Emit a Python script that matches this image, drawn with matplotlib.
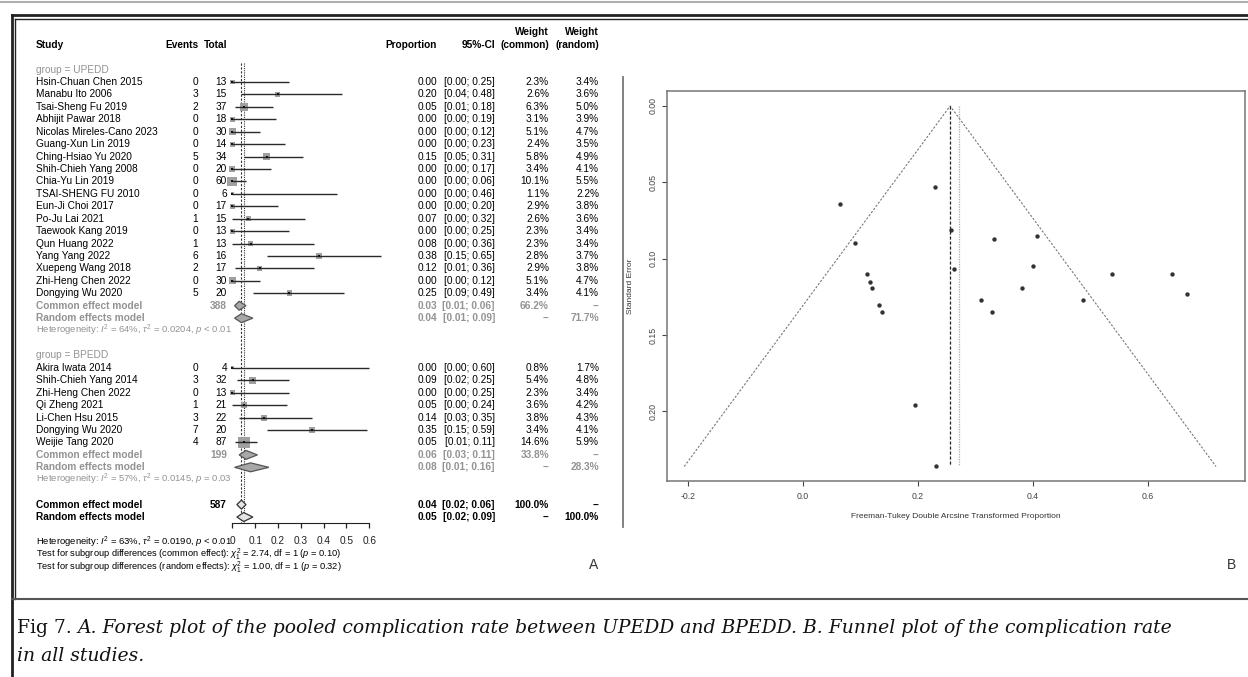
import matplotlib
matplotlib.use("Agg")
import matplotlib.pyplot as plt
import matplotlib.transforms as mtransforms
from matplotlib.lines import Line2D
import numpy as np

plt.rcParams['font.family'] = ['Liberation Sans', 'DejaVu Sans']
plt.rcParams['mathtext.fontset'] = 'custom'
plt.rcParams['mathtext.rm'] = 'Liberation Sans'
plt.rcParams['mathtext.it'] = 'Liberation Sans:italic'
plt.rcParams['mathtext.bf'] = 'Liberation Sans:bold'

# ---------------- panel A: forest plot data ----------------
up_study = ["Hsin-Chuan Chen 2015", "Manabu Ito 2006", "Tsai-Sheng Fu 2019", "Abhijit Pawar 2018",
            "Nicolas Mireles-Cano 2023", "Guang-Xun Lin 2019", "Ching-Hsiao Yu 2020",
            "Shih-Chieh Yang 2008", "Chia-Yu Lin 2019", "TSAI-SHENG FU 2010", "Eun-Ji Choi 2017",
            "Po-Ju Lai 2021", "Taewook Kang 2019", "Qun Huang 2022", "Yang Yang 2022",
            "Xuepeng Wang 2018", "Zhi-Heng Chen 2022", "Dongying Wu 2020"]
up_events = [0, 3, 2, 0, 0, 0, 5, 0, 0, 0, 0, 1, 0, 1, 6, 2, 0, 5]
up_total = [13, 15, 37, 18, 30, 14, 34, 20, 60, 6, 17, 15, 13, 13, 16, 17, 30, 20]
up_prop = [0.00, 0.20, 0.05, 0.00, 0.00, 0.00, 0.15, 0.00, 0.00, 0.00, 0.00, 0.07, 0.00, 0.08, 0.38, 0.12, 0.00, 0.25]
up_lo = [0.00, 0.04, 0.01, 0.00, 0.00, 0.00, 0.05, 0.00, 0.00, 0.00, 0.00, 0.00, 0.00, 0.00, 0.15, 0.01, 0.00, 0.09]
up_hi = [0.25, 0.48, 0.18, 0.19, 0.12, 0.23, 0.31, 0.17, 0.06, 0.46, 0.20, 0.32, 0.25, 0.36, 0.65, 0.36, 0.12, 0.49]
up_wc = [2.3, 2.6, 6.3, 3.1, 5.1, 2.4, 5.8, 3.4, 10.1, 1.1, 2.9, 2.6, 2.3, 2.3, 2.8, 2.9, 5.1, 3.4]
up_wr = [3.4, 3.6, 5.0, 3.9, 4.7, 3.5, 4.9, 4.1, 5.5, 2.2, 3.8, 3.6, 3.4, 3.4, 3.7, 3.8, 4.7, 4.1]

bp_study = ["Akira Iwata 2014", "Shih-Chieh Yang 2014", "Zhi-Heng Chen 2022", "Qi Zheng 2021",
            "Li-Chen Hsu 2015", "Dongying Wu 2020", "Weijie Tang 2020"]
bp_events = [0, 3, 0, 1, 3, 7, 4]
bp_total = [4, 32, 13, 21, 22, 20, 87]
bp_prop = [0.00, 0.09, 0.00, 0.05, 0.14, 0.35, 0.05]
bp_lo = [0.00, 0.02, 0.00, 0.00, 0.03, 0.15, 0.01]
bp_hi = [0.60, 0.25, 0.25, 0.24, 0.35, 0.59, 0.11]
bp_wc = [0.8, 5.4, 2.3, 3.6, 3.8, 3.4, 14.6]
bp_wr = [1.7, 4.8, 3.4, 4.2, 4.3, 4.1, 5.9]

groups = ["UPEDD", "BPEDD"]
sub_total = [388, 199]
sub_common = [(0.03, 0.01, 0.06), (0.06, 0.03, 0.11)]
sub_random = [(0.04, 0.01, 0.09), (0.08, 0.01, 0.16)]
sub_wc = [66.2, 33.8]
sub_wr = [71.7, 28.3]
sub_i2 = [64, 57]
sub_tau2 = ["0.0204", "0.0145"]
sub_p = ["< 0.01", "= 0.03"]

all_total = 587
all_common = (0.04, 0.02, 0.06)
all_random = (0.05, 0.02, 0.09)
all_i2, all_tau2, all_p = 63, "0.0190", "< 0.01"
test_common = ("2.74", 1, "0.10")
test_random = ("1.00", 1, "0.32")
forest_ticks = [0, 0.1, 0.2, 0.3, 0.4, 0.5, 0.6]

# ---------------- panel B: funnel plot data ----------------
ft_x = [0.065, 0.229, 0.091, 0.258, 0.332, 0.408, 0.111, 0.116, 0.120, 0.132, 0.137,
        0.262, 0.309, 0.329, 0.381, 0.401, 0.488, 0.538, 0.642, 0.668, 0.195, 0.232]
ft_se = [0.064, 0.053, 0.090, 0.081, 0.087, 0.085, 0.110, 0.115, 0.119, 0.130, 0.135,
         0.107, 0.127, 0.135, 0.119, 0.105, 0.127, 0.110, 0.110, 0.123, 0.196, 0.236]
ft_common = 0.256
ft_random = 0.271

# ---------------- layout ----------------
W, H = 1248, 677
fig = plt.figure(figsize=(W / 100, H / 100), dpi=100)
FS = 7.3
GRAY = "#939393"
BLACK = "#000000"

PANEL_A = 623
X0_PX, UNIT_PX = 232.3, 228.3   # where 0 sits, pixels per unit
ROW0_PX, ROW_PX = 44.7, 12.43

ax = fig.add_axes([0, 0, PANEL_A / W, 1])
ax.set_xlim(-X0_PX / UNIT_PX, (PANEL_A - X0_PX) / UNIT_PX)
ax.set_ylim((H - ROW0_PX) / ROW_PX, -ROW0_PX / ROW_PX)
ax.patch.set_alpha(0)
tr = mtransforms.blended_transform_factory(fig.transFigure, ax.transData)

col = {"name": 36, "events": 198, "total": 227, "prop": 437, "ci": 495, "wc": 549, "wr": 599}


def put(key, row, s, ha="right", color=BLACK, weight="normal", size=FS):
    ax.text(col[key] / W, row, s, transform=tr, ha=ha, va="center",
            fontsize=size, color=color, fontweight=weight)


def ci_txt(lo, hi):
    return f"[{lo:.2f}; {hi:.2f}]"


# header
put("name", 0, "Study", ha="left", weight="bold")
put("events", 0, "Events", weight="bold")
put("total", 0, "Total", weight="bold")
put("prop", 0, "Proportion", weight="bold")
put("ci", 0, "95%-CI", weight="bold")
put("wc", -1, "Weight", weight="bold")
put("wc", 0, "(common)", weight="bold")
put("wr", -1, "Weight", weight="bold")
put("wr", 0, "(random)", weight="bold")


def diamond(est, lo, hi, row, face, edge):
    h = 0.36
    ax.fill([lo, est, hi, est], [row, row - h, row, row + h], facecolor=face,
            edgecolor=edge, lw=0.9, zorder=4)


def draw_group(g, study, events, total, prop, lo, hi, wc, wr, start):
    put("name", start, f"group = {groups[g]}", ha="left", color=GRAY)
    rows = np.arange(len(study)) + start + 1
    for r, s, e, n, p, l, u, a, b in zip(rows, study, events, total, prop, lo, hi, wc, wr):
        put("name", r, s, ha="left")
        put("events", r, str(e))
        put("total", r, str(n))
        put("prop", r, f"{p:.2f}")
        put("ci", r, ci_txt(l, u))
        put("wc", r, f"{a:.1f}%")
        put("wr", r, f"{b:.1f}%")
    side = 3.1 * np.sqrt(np.array(wc)) * 0.72
    ax.scatter(prop, rows, s=side ** 2, marker="s", color="#a0a0a0", zorder=3, linewidths=0)
    ax.hlines(rows, lo, hi, color="#2a2a2a", lw=1.0, zorder=4)
    ax.scatter(prop, rows, s=4, marker="s", color="#111111", zorder=5, linewidths=0)

    rc = rows[-1] + 1
    put("name", rc, "Common effect model", ha="left", color=GRAY, weight="bold")
    put("total", rc, str(sub_total[g]), color=GRAY, weight="bold")
    put("prop", rc, f"{sub_common[g][0]:.2f}", color=GRAY, weight="bold")
    put("ci", rc, ci_txt(*sub_common[g][1:]), color=GRAY, weight="bold")
    put("wc", rc, f"{sub_wc[g]:.1f}%", color=GRAY, weight="bold")
    put("wr", rc, "--", color=GRAY, weight="bold")
    diamond(*sub_common[g], rc, "#a8a8a8", "#555555")

    rr = rc + 1
    put("name", rr, "Random effects model", ha="left", color=GRAY, weight="bold")
    put("prop", rr, f"{sub_random[g][0]:.2f}", color=GRAY, weight="bold")
    put("ci", rr, ci_txt(*sub_random[g][1:]), color=GRAY, weight="bold")
    put("wc", rr, "--", color=GRAY, weight="bold")
    put("wr", rr, f"{sub_wr[g]:.1f}%", color=GRAY, weight="bold")
    diamond(*sub_random[g], rr, "#a8a8a8", "#555555")

    put("name", rr + 1, rf"Heterogeneity: $I^2$ = {sub_i2[g]}%, $\tau^2$ = {sub_tau2[g]}, $p$ {sub_p[g]}",
        ha="left", color=GRAY, size=FS - 0.5)
    return rr + 3


nxt = draw_group(0, up_study, up_events, up_total, up_prop, up_lo, up_hi, up_wc, up_wr, 2)
nxt = draw_group(1, bp_study, bp_events, bp_total, bp_prop, bp_lo, bp_hi, bp_wc, bp_wr, nxt)

rc = nxt
put("name", rc, "Common effect model", ha="left", weight="bold")
put("total", rc, str(all_total), weight="bold")
put("prop", rc, f"{all_common[0]:.2f}", weight="bold")
put("ci", rc, ci_txt(*all_common[1:]), weight="bold")
put("wc", rc, "100.0%", weight="bold")
put("wr", rc, "--", weight="bold")
diamond(*all_common, rc, "#e4e4e4", "#333333")
rr = rc + 1
put("name", rr, "Random effects model", ha="left", weight="bold")
put("prop", rr, f"{all_random[0]:.2f}", weight="bold")
put("ci", rr, ci_txt(*all_random[1:]), weight="bold")
put("wc", rr, "--", weight="bold")
put("wr", rr, "100.0%", weight="bold")
diamond(*all_random, rr, "#e4e4e4", "#333333")

axis_row = (523.3 - ROW0_PX) / ROW_PX
ax.vlines(all_common[0], 1.5, axis_row, color="#333333", lw=0.8, linestyles=(0, (2, 1.5)), zorder=2)
ax.vlines(all_random[0], 1.5, axis_row, color="#333333", lw=0.8, linestyles=(0, (1, 1)), zorder=2)

for s in ["top", "right", "left"]:
    ax.spines[s].set_visible(False)
ax.spines["bottom"].set_position(("data", axis_row))
ax.spines["bottom"].set_bounds(forest_ticks[0], forest_ticks[-1])
ax.spines["bottom"].set_color("#222222")
ax.set_xticks(forest_ticks)
ax.set_xticklabels([f"{t:g}" for t in forest_ticks])
ax.set_yticks([])
ax.tick_params(axis="x", length=3.6, width=0.9, pad=5.5, labelsize=FS, colors="#222222")

bot = rr + 2
put("name", bot, rf"Heterogeneity: $I^2$ = {all_i2}%, $\tau^2$ = {all_tau2}, $p$ {all_p}", ha="left", size=FS - 0.5)
put("name", bot + 1, rf"Test for subgroup differences (common effect): $\chi^2_{test_common[1]}$ = {test_common[0]}, df = {test_common[1]} ($p$ = {test_common[2]})",
    ha="left", size=FS - 0.6)
put("name", bot + 2, rf"Test for subgroup differences (random effects): $\chi^2_{test_random[1]}$ = {test_random[0]}, df = {test_random[1]} ($p$ = {test_random[2]})",
    ha="left", size=FS - 0.6)

fig.text(594 / W, 1 - 565 / H, "A", ha="center", va="center", fontsize=10, color="#333333")
fig.text(1231 / W, 1 - 565 / H, "B", ha="center", va="center", fontsize=10, color="#333333")

# ---------------- funnel plot ----------------
ax2 = fig.add_axes([667 / W, 1 - 481 / H, (1245 - 667) / W, (481 - 91) / H])
se_max = max(ft_se)
ax2.plot([ft_common - 1.96 * se_max, ft_common, ft_common + 1.96 * se_max], [se_max, 0, se_max],
         color="#777777", lw=0.8, ls=(0, (2, 1.5)))
ax2.plot([ft_common, ft_common], [0, se_max], color="#222222", lw=0.9, ls=(0, (2.5, 1.5)))
ax2.plot([ft_random, ft_random], [0, se_max], color="#aaaaaa", lw=0.9, ls=(0, (1, 1)))
ax2.scatter(ft_x, ft_se, s=10, color="#333333", zorder=3, linewidths=0)
ax2.set_xlim(-0.2365, 0.769)
ax2.set_ylim(0.2455, -0.0098)
ax2.set_xticks([-0.2, 0.0, 0.2, 0.4, 0.6])
ax2.set_xticklabels([f"{v:.1f}" for v in [-0.2, 0.0, 0.2, 0.4, 0.6]])
ax2.set_yticks([0.0, 0.05, 0.10, 0.15, 0.20])
ax2.set_yticklabels([f"{v:.2f}" for v in [0.0, 0.05, 0.10, 0.15, 0.20]], rotation=90, va="center")
ax2.tick_params(axis="both", length=3.6, width=0.8, labelsize=6.3, colors="#444444")
ax2.tick_params(axis="x", pad=4)
ax2.tick_params(axis="y", pad=3)
for s in ax2.spines.values():
    s.set_color("#777777")
    s.set_linewidth(1.1)
ax2.set_xlabel("Freeman-Tukey Double Arcsine Transformed Proportion", fontsize=6, color="#333333", va="center")
ax2.xaxis.set_label_coords(0.5, (481 - 517) / 390)
ax2.set_ylabel("Standard Error", fontsize=6, color="#333333", va="center")
ax2.yaxis.set_label_coords((630 - 667) / 578, 0.5)

# ---------------- frame and caption ----------------
def hline(y, x0, x1, **kw):
    fig.add_artist(Line2D([x0 / W, x1 / W], [1 - y / H, 1 - y / H], **kw))


def vline(x, y0, y1, **kw):
    fig.add_artist(Line2D([x / W, x / W], [1 - y0 / H, 1 - y1 / H], **kw))


hline(1.5, 0, W, color="#b0b0b0", lw=1.5)
hline(15, 12, W, color="#222222", lw=2.0)
hline(18.5, 15.5, W, color="#222222", lw=1.0)
vline(12, 15, H, color="#222222", lw=2.0)
vline(15.5, 18.5, 599, color="#222222", lw=1.0)
hline(599, 12, W, color="#555555", lw=1.5)
vline(623, 77, 527, color="#777777", lw=1.3)

cap_font = "DejaVu Serif"
renderer = fig.canvas.get_renderer()
cap_lines = ["A. Forest plot of the pooled complication rate between UPEDD and BPEDD. B. Funnel plot of the complication rate",
             "in all studies."]
size = 12.5
t1 = fig.text(17 / W, 1 - 628 / H, "Fig 7. ", family=cap_font, fontsize=size, va="center", color="#111111")
b1 = t1.get_window_extent(renderer)
t2 = fig.text(b1.x1 / W, 1 - 628 / H, cap_lines[0], family=cap_font, style="italic",
              fontsize=size, va="center", color="#111111")
b2 = t2.get_window_extent(renderer)
scale = (1172 - 17) / (b2.x1 - b1.x0)
size *= scale
t1.set_fontsize(size)
b1 = t1.get_window_extent(renderer)
t2.set_fontsize(size)
t2.set_x(b1.x1 / W)
fig.text(17 / W, 1 - 656 / H, cap_lines[1], family=cap_font, style="italic",
         fontsize=size, va="center", color="#111111")

fig.savefig("out.png", dpi=100)
